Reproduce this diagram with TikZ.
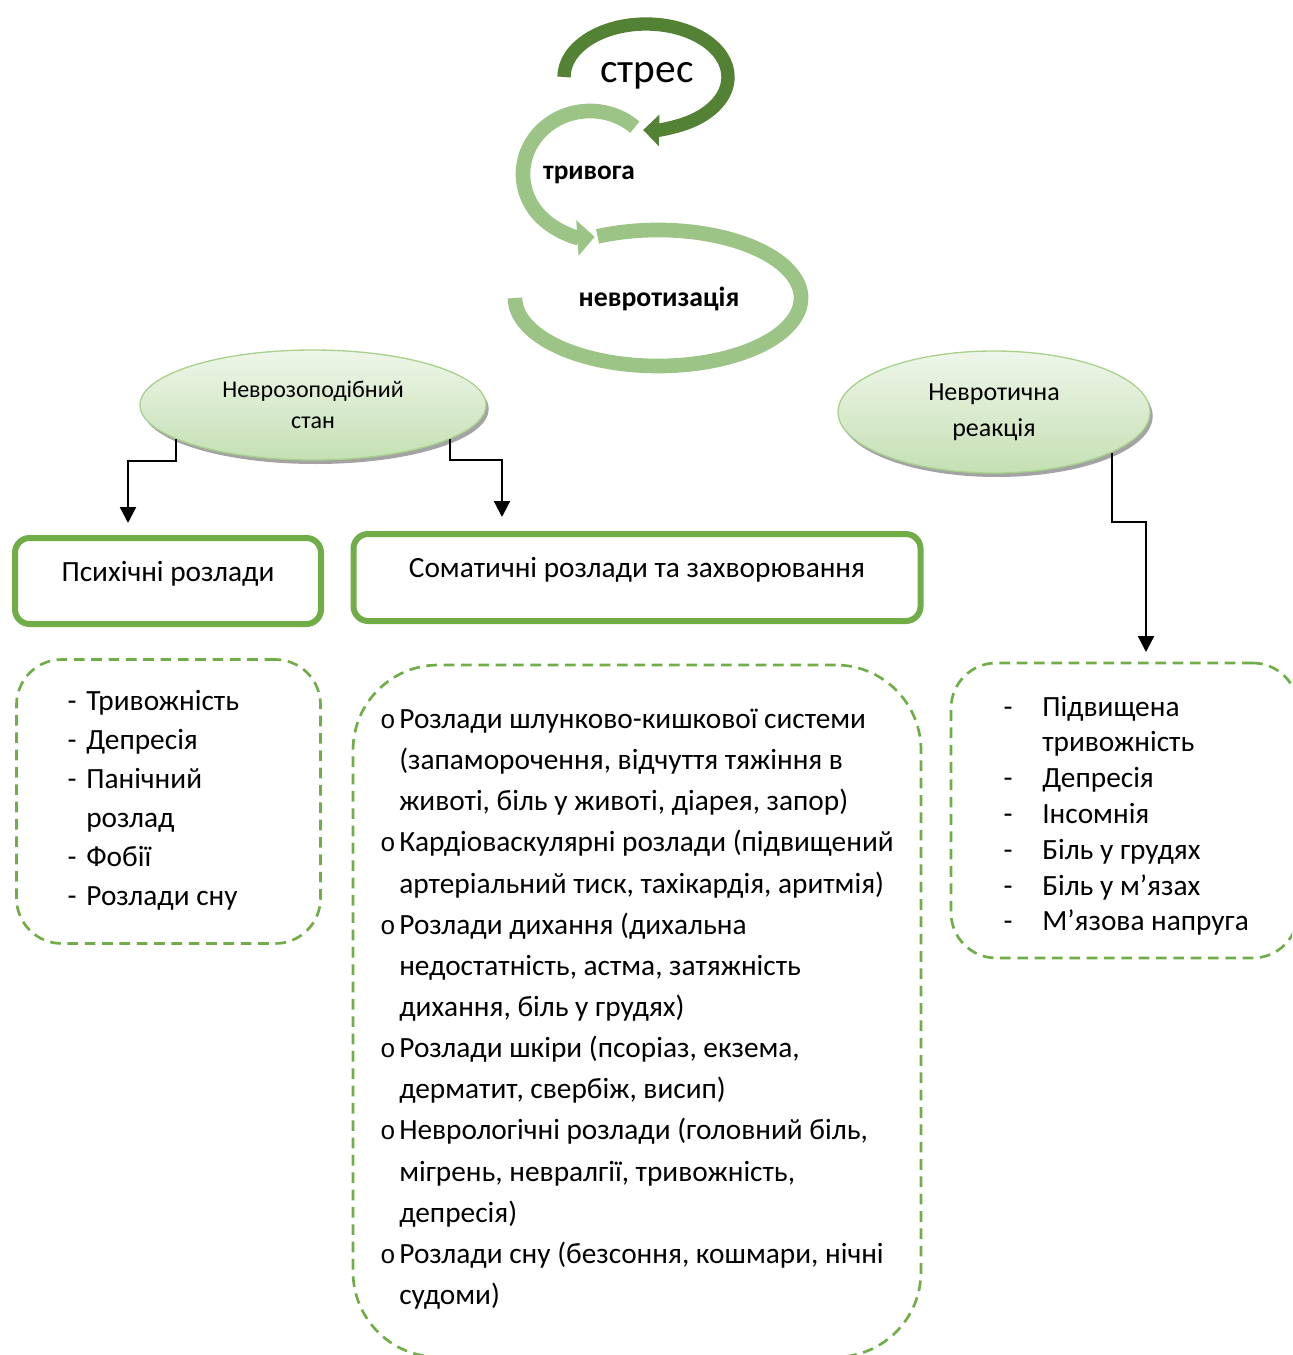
\documentclass[tikz,border=0pt]{standalone}
\usepackage{fontspec}
\setmainfont{Carlito}
\newfontfamily\bulletfont{Liberation Mono}
\usetikzlibrary{arrows.meta,shapes.geometric,shadows}
\definecolor{dkgreen}{RGB}{84,130,53}
\definecolor{ltgreen}{RGB}{155,196,134}
\definecolor{boxgreen}{RGB}{112,173,71}
\definecolor{ellborder}{RGB}{169,209,142}
\definecolor{elltop}{RGB}{238,246,233}
\definecolor{ellbot}{RGB}{197,224,180}
\begin{document}
\begin{tikzpicture}[x=0.75pt,y=-0.75pt,
  body/.style={font=\fontsize{22}{26}\selectfont, inner sep=0pt},
  ell/.style={ellipse, draw=ellborder, line width=1pt, top color=elltop, bottom color=ellbot,
    drop shadow={shadow xshift=2pt, shadow yshift=-3pt, fill=black!45, opacity=0.8},
    align=center, inner sep=0pt},
  sbox/.style={draw=boxgreen, line width=4.5pt, rounded corners=11pt, fill=white,
    font=\fontsize{22}{26}\selectfont, text height=10pt, text depth=10pt},
  dbox/.style={draw=boxgreen, line width=2pt, dash pattern=on 8pt off 5pt},
  conn/.style={draw=black, line width=1.7pt, -{Triangle[width=12pt,length=12pt]}},
  bul/.style={font=\bulletfont\fontsize{19.5}{22}\selectfont, inner sep=0pt, anchor=base}
]
\useasboundingbox (0,0) rectangle (1292,1355);
\clip (0,0) rectangle (1292,1355);

% spiral arrows
\draw[line width=10pt, dkgreen, -{Triangle[width=23pt,length=12pt]}]
  ([shift={(180:82 and 53)}]646,77) arc[start angle=180, end angle=452, x radius=82, y radius=53];
\draw[line width=11pt, ltgreen]
  ([shift={(245:143 and 68)}]658,298) arc[start angle=245, end angle=540, x radius=143, y radius=68];
\draw[line width=11pt, ltgreen, -{Triangle[width=26pt,length=13pt]}]
  ([shift={(312:67 and 63)}]590,174) arc[start angle=312, end angle=86, x radius=67, y radius=63];

\node[font=\fontsize{31}{36}\selectfont, inner sep=0pt] (stres) at (647,76) {стрес};
\node[font=\bfseries\fontsize{20.5}{24}\selectfont, inner sep=0pt] (tryv) at (589,175) {тривога};
\node[font=\bfseries\fontsize{20.8}{24}\selectfont, inner sep=0pt] (nevr) at (659,299) {невротизація};

% ellipses
\node[ell, minimum width=259.5pt, minimum height=82.5pt, font=\fontsize{18}{23.25}\selectfont]
  (le) at (313,405) {Неврозоподібний\\стан};
\node[ell, minimum width=234pt, minimum height=91.5pt, font=\fontsize{19.5}{27}\selectfont]
  (re) at (994,412) {Невротична\\реакція};

% solid boxes
\node[sbox, minimum width=229.5pt, minimum height=64.5pt] (psy) at (168,581) {Психічні розлади};
\node[sbox, minimum width=425.25pt, minimum height=65.25pt] (som) at (637,577.5) {Соматичні розлади та захворювання};

% connectors
\draw[conn] (le.194) |- (128,461) -- (128,523);
\draw[conn] (le.346.5) |- (502,460) -- (502,517);
\draw[conn] (re.341) |- (1146,522) -- (1146,652);

% dashed boxes
\node[dbox, rounded corners=34pt, minimum width=228pt, minimum height=213pt] (psyl) at (168.5,801.5) {};
\node[dbox, rounded corners=64pt, minimum width=426pt, minimum height=519pt] (soml) at (637,1011) {};
\node[dbox, rounded corners=34pt, minimum width=260.25pt, minimum height=221.25pt] (nrl) at (1124.5,810.5) {};

% left list
\foreach \t [count=\i] in {Тривожність, Депресія, Панічний, розлад, Фобії, Розлади сну}
  \node[body, anchor=base west] (l\i) at (86,{710+39*(\i-1)}) {\t};
\foreach \i in {1,2,3,5,6}
  \node[body, anchor=base] (ld\i) at (72,{710+39*(\i-1)}) {-};

% right list
\foreach \t [count=\i] in {Підвищена, тривожність, Депресія, Інсомнія, Біль у грудях, Біль у м’язах, М’язова напруга}
  \node[body, anchor=base west] (r\i) at (1042,{716+35.8*(\i-1)}) {\t};
\foreach \i in {1,3,4,5,6,7}
  \node[body, anchor=base] (rd\i) at (1008,{716+35.8*(\i-1)}) {-};

% middle list
\foreach \t [count=\i] in {
  {Розлади шлунково-кишкової системи},
  {(запаморочення, відчуття тяжіння в},
  {животі, біль у животі, діарея, запор)},
  {Кардіоваскулярні розлади (підвищений},
  {артеріальний тиск, тахікардія, аритмія)},
  {Розлади дихання (дихальна},
  {недостатність, астма, затяжність},
  {дихання, біль у грудях)},
  {Розлади шкіри (псоріаз, екзема,},
  {дерматит, свербіж, висип)},
  {Неврологічні розлади (головний біль,},
  {мігрень, невралгії, тривожність,},
  {депресія)},
  {Розлади сну (безсоння, кошмари, нічні},
  {судоми)}}
  \node[body, anchor=base west] (m\i) at (399,{728.5+41.14*(\i-1)}) {\t};
\foreach \i in {1,4,6,9,11,14}
  \node[bul] (mb\i) at (388,{728.5+41.14*(\i-1)}) {o};
\end{tikzpicture}
\end{document}
